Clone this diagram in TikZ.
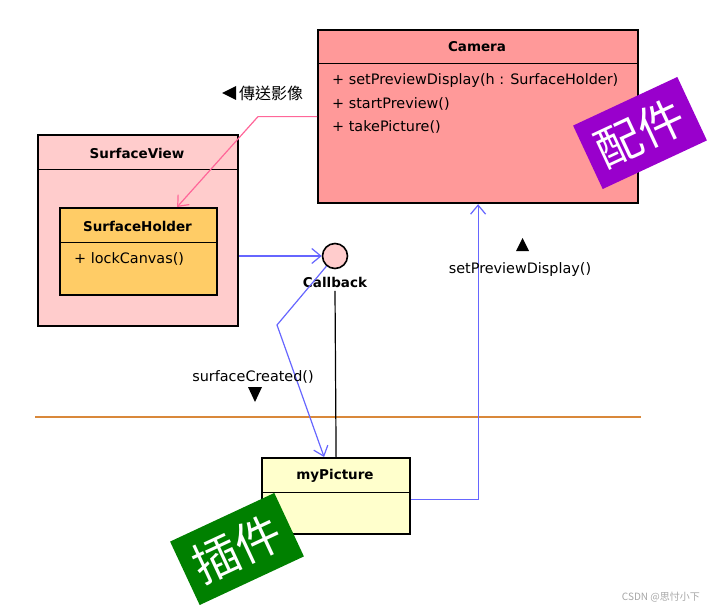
\documentclass[tikz,border=0pt]{standalone}
\usepackage{fontspec}
\setmainfont{DejaVu Sans}
\newfontfamily\cjk{Noto Sans CJK TC}
\usetikzlibrary{arrows.meta}
\definecolor{camfill}{HTML}{FF9999}
\definecolor{svfill}{HTML}{FFCCCC}
\definecolor{shfill}{HTML}{FFCC66}
\definecolor{mpfill}{HTML}{FFFFCC}
\definecolor{linkblue}{HTML}{6666FF}
\definecolor{linkpink}{HTML}{FF6699}
\definecolor{divider}{HTML}{D9883A}
\definecolor{tagpurple}{HTML}{9900CC}
\definecolor{taggreen}{HTML}{008000}
\tikzset{
  umlbox/.style={draw=black, line width=2.2pt, anchor=north west, inner sep=0pt},
  title/.style={font=\bfseries\fontsize{13.5}{15}\selectfont},
  member/.style={font=\fontsize{14.4}{16}\selectfont, anchor=west, inner sep=0pt},
  blueconn/.style={draw=linkblue, line width=1.2pt},
  openhead/.style={-{Straight Barb[length=9pt,width=15pt,line width=1.2pt]}},
  tag/.style={text=white, font=\cjk\fontsize{46}{48}\selectfont, minimum width=115pt, minimum height=70pt, inner sep=0pt, rotate=25},
  note/.style={font=\fontsize{14.4}{16}\selectfont, inner sep=0pt},
  marker/.style={fill=black}
}
\begin{document}
\begin{tikzpicture}[x=1pt,y=-1pt]
\useasboundingbox (0,0) rectangle (710,610);

% Camera class
\node[umlbox, fill=camfill, minimum width=320pt, minimum height=173pt] (camera) at (317,29) {};
\draw[line width=1pt] ([yshift=-35pt]camera.north west) -- ([yshift=-35pt]camera.north east);
\node[title] (camtitle) at (477,47) {Camera};
\node[member] (m1) at (332,81) {+ setPreviewDisplay(h : SurfaceHolder)};
\node[member] (m2) at (332,104) {+ startPreview()};
\node[member] (m3) at (332,127) {+ takePicture()};

% SurfaceView with nested SurfaceHolder
\node[umlbox, fill=svfill, minimum width=200pt, minimum height=191pt] (sview) at (37,134) {};
\draw[line width=1pt] ([yshift=-35pt]sview.north west) -- ([yshift=-35pt]sview.north east);
\node[title] (svtitle) at (137,153) {SurfaceView};
\node[umlbox, fill=shfill, minimum width=157pt, minimum height=87pt] (sholder) at (59,207) {};
\draw[line width=1pt] ([yshift=-35pt]sholder.north west) -- ([yshift=-35pt]sholder.north east);
\node[title] (shtitle) at (137.5,226) {SurfaceHolder};
\node[member] (lock) at (74,259) {+ lockCanvas()};

% Callback interface
\node[circle, draw=black, line width=1.6pt, fill=svfill, minimum size=25pt, inner sep=0pt] (cb) at (335,256) {};
\node[title] (cblabel) at (335,282) {Callback};

% myPicture class
\node[umlbox, fill=mpfill, minimum width=148pt, minimum height=76pt] (mypic) at (261,457) {};
\draw[line width=1pt] ([yshift=-35pt]mypic.north west) -- ([yshift=-35pt]mypic.north east);
\node[title] (mptitle) at (335,476) {myPicture};

% boundary between framework and plug-in
\coordinate (divL) at (35,417);
\coordinate (divR) at (641,417);
\draw[divider, line width=2.6pt] (divL) -- (divR);

% connectors
\draw[linkpink, line width=1.2pt, openhead] (camera.west) -- ++(-59,0) -- ([xshift=38.5pt]sholder.north);
\draw[blueconn, openhead] (sview.east |- cb) -- (cb.west);
\draw[line width=1.2pt] (cblabel.south) -- (mypic.north);
\draw[blueconn, openhead] (cb.230) -- (277,325) -- ([xshift=-12pt]mypic.north);
\draw[blueconn, openhead] ([yshift=-3pt]mypic.east) -| (camera.south);

% message labels
\fill[marker] (222,93) -- (236,86) -- (236,100) -- cycle;
\node[font=\cjk\fontsize{16}{18}\selectfont, anchor=west, inner sep=0pt] (sendimg) at (239,93) {傳送影像};
\fill[marker] (516,251) -- (529,251) -- (522.5,238) -- cycle;
\node[note] (spd) at (520,270) {setPreviewDisplay()};
\node[note] (sc) at (253,377) {surfaceCreated()};
\fill[marker] (248,387) -- (262,387) -- (255,402) -- cycle;

% tags
\node[tag, fill=tagpurple] (parts) at (640,133) {配件};
\node[tag, fill=taggreen] (plugin) at (237,549) {插件};

% signature
\node[font=\cjk\fontsize{10}{12}\selectfont, text=gray!70, anchor=east, inner sep=0pt] (sig) at (700,597) {CSDN @思忖小下};
\end{tikzpicture}
\end{document}
